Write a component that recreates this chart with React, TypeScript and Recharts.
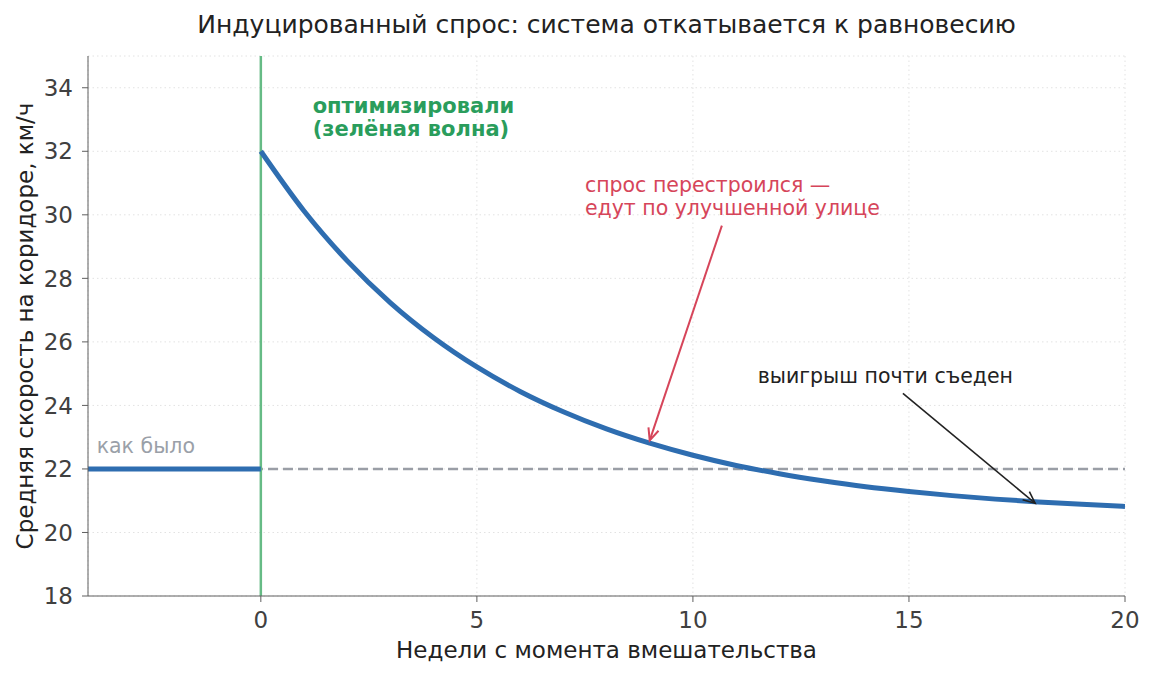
import {
  ComposedChart,
  Line,
  XAxis,
  YAxis,
  CartesianGrid,
  ReferenceLine,
  ReferenceDot,
} from 'recharts'

// weeks since the intervention, speed in km/h
const beforeWeeks = [-4, 0]
const beforeSpeed = [22, 22]
const weeks = [0, 1, 2, 3, 4, 5, 6, 7, 8, 9, 10, 11, 12, 13, 14, 15, 16, 17, 18, 19, 20]
const speed = [
  32.0, 30.12, 28.55, 27.23, 26.13, 25.21, 24.44, 23.8, 23.26, 22.81, 22.43, 22.11, 21.85,
  21.63, 21.44, 21.29, 21.16, 21.05, 20.96, 20.89, 20.82,
]
const baseline = 22
const xTicks = [0, 5, 10, 15, 20]
const yTicks = [18, 20, 22, 24, 26, 28, 30, 32, 34]

const FONT = '"DejaVu Sans", sans-serif'

type Row = { week: number; before?: number; after?: number }

function buildRows(): Row[] {
  const map = new Map<number, Row>()
  beforeWeeks.forEach((w, i) => map.set(w, { week: w, before: beforeSpeed[i] }))
  weeks.forEach((w, i) => {
    const r = map.get(w) ?? { week: w }
    r.after = speed[i]
    map.set(w, r)
  })
  return [...map.values()].sort((a, b) => a.week - b.week)
}

const rows = buildRows()

function arrow(color: string, width: number) {
  return (p: any) => {
    const { x1, y1, x2, y2 } = p
    const a = Math.atan2(y2 - y1, x2 - x1)
    const len = 13
    const spread = 0.42
    const ax = x2 - len * Math.cos(a - spread)
    const ay = y2 - len * Math.sin(a - spread)
    const bx = x2 - len * Math.cos(a + spread)
    const by = y2 - len * Math.sin(a + spread)
    return (
      <g>
        <line x1={x1} y1={y1} x2={x2} y2={y2} stroke={color} strokeWidth={width} />
        <path
          d={`M${ax},${ay} L${x2},${y2} L${bx},${by}`}
          fill="none"
          stroke={color}
          strokeWidth={width}
        />
      </g>
    )
  }
}

function label(lines: string[], color: string, bold = false) {
  return (p: any) => (
    <text
      x={p.cx}
      y={p.cy}
      fill={color}
      fontFamily={FONT}
      fontSize={bold ? 21 : 20.5}
      fontWeight={bold ? 'bold' : 'normal'}
    >
      {lines.map((l, i) => (
        <tspan key={i} x={p.cx} y={p.cy - (lines.length - 1 - i) * 23}>
          {l}
        </tspan>
      ))}
    </text>
  )
}

export default function App() {
  const tick = { fill: '#404040', fontFamily: FONT, fontSize: 23 }
  return (
    <div style={{ position: 'relative', width: 1153, height: 677, background: '#fff' }}>
      <style>{`body{margin:0}`}</style>
      <div
        style={{
          position: 'absolute',
          left: 88,
          width: 1037,
          top: 10,
          textAlign: 'center',
          fontFamily: FONT,
          fontSize: 25,
          color: '#222',
        }}
      >
        Индуцированный спрос: система откатывается к равновесию
      </div>
      <div
        style={{
          position: 'absolute',
          left: 88,
          width: 1037,
          top: 637,
          textAlign: 'center',
          fontFamily: FONT,
          fontSize: 23,
          color: '#222',
        }}
      >
        Недели с момента вмешательства
      </div>
      <div
        style={{
          position: 'absolute',
          left: 25,
          top: 326,
          transform: 'translate(-50%, -50%) rotate(-90deg)',
          whiteSpace: 'nowrap',
          fontFamily: FONT,
          fontSize: 23,
          color: '#222',
        }}
      >
        Средняя скорость на коридоре, км/ч
      </div>

      <div style={{ position: 'absolute', left: 0, top: 0 }}>
        <ComposedChart
          width={1153}
          height={677}
          data={rows}
          margin={{ top: 56, right: 28, bottom: 31, left: 28 }}
        >
          <CartesianGrid stroke="#e2e2e2" strokeDasharray="1.5 3" />
          <XAxis
            dataKey="week"
            type="number"
            domain={[-4, 20]}
            ticks={xTicks}
            height={50}
            tick={tick}
            tickSize={6}
            tickMargin={10}
            stroke="#5f5f5f"
            allowDataOverflow
          />
          <YAxis
            type="number"
            domain={[18, 35]}
            ticks={yTicks}
            width={60}
            tick={tick}
            tickSize={6}
            tickMargin={9}
            stroke="#5f5f5f"
            allowDataOverflow
          />
          <ReferenceLine
            y={baseline}
            stroke="#9a9ea6"
            strokeWidth={2.5}
            strokeDasharray="10 5"
          />
          <ReferenceLine x={0} stroke="#66bb85" strokeWidth={2.5} />
          <Line
            dataKey="before"
            stroke="#2e6db0"
            strokeWidth={5}
            dot={false}
            isAnimationActive={false}
            connectNulls={false}
          />
          <Line
            dataKey="after"
            type="monotone"
            stroke="#2e6db0"
            strokeWidth={5}
            dot={false}
            isAnimationActive={false}
            connectNulls={false}
          />
          <ReferenceLine
            segment={[
              { x: 10.67, y: 29.66 },
              { x: 9.0, y: 22.9 },
            ]}
            shape={arrow('#d6455a', 2)}
          />
          <ReferenceLine
            segment={[
              { x: 14.86, y: 24.38 },
              { x: 17.92, y: 20.92 },
            ]}
            shape={arrow('#222222', 1.6)}
          />
          <ReferenceDot
            x={1.2}
            y={32.48}
            r={0}
            shape={label(['оптимизировали', '(зелёная волна)'], '#2a9d5c', true)}
          />
          <ReferenceDot
            x={7.5}
            y={30}
            r={0}
            shape={label(['спрос перестроился —', 'едут по улучшенной улице'], '#d6455a')}
          />
          <ReferenceDot
            x={11.5}
            y={24.7}
            r={0}
            shape={label(['выигрыш почти съеден'], '#222222')}
          />
          <ReferenceDot x={-3.8} y={22.5} r={0} shape={label(['как было'], '#9aa0a8')} />
        </ComposedChart>
      </div>
    </div>
  )
}
